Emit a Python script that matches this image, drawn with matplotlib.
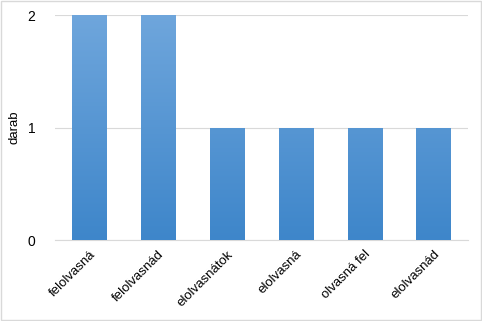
import matplotlib.pyplot as plt
import numpy as np
from matplotlib.colors import LinearSegmentedColormap

plt.rcParams['font.family'] = ['Liberation Sans', 'DejaVu Sans']

words = ["felolvasná", "felolvasnád", "elolvasnátok", "elolvasná", "olvasná fel", "elolvasnád"]
counts = [2, 2, 1, 1, 1, 1]

fig = plt.figure(figsize=(4.82, 3.21), dpi=100)
ax = fig.add_axes([0.114, 0.252, 0.857, 0.701])

x = np.arange(len(words))
bars = ax.bar(x, counts, width=0.5, color="#5b9bd5", zorder=2)

# vertical gradient on each bar, lighter at the top
cmap = LinearSegmentedColormap.from_list("bar", ["#3e86ca", "#6fa6dc"])
grad = np.linspace(0, 1, 256).reshape(-1, 1)
for b in bars:
    x0, w, h = b.get_x(), b.get_width(), b.get_height()
    im = ax.imshow(grad, cmap=cmap, origin="lower", aspect="auto",
                   extent=[x0, x0 + w, 0, 2], zorder=3)
    im.set_clip_path(b)

ax.set_xlim(-0.5, len(words) - 0.5)
ax.set_ylim(0, 2)
ax.set_yticks([0, 1, 2])
ax.set_xticks(x)
ax.set_xticklabels(words, rotation=45, ha="right", rotation_mode="anchor", fontsize=9.5)
ax.tick_params(axis="y", labelsize=10, length=0, pad=14)
ax.tick_params(axis="x", length=0, pad=6)
ax.set_ylabel("darab", fontsize=9.5, labelpad=5)

ax.grid(axis="y", color="#d9d9d9", linewidth=0.8, zorder=0)
for s in ["top", "right", "left"]:
    ax.spines[s].set_visible(False)
ax.spines["bottom"].set_color("#d9d9d9")

fig.patches.append(plt.Rectangle((0.002, 0.003), 0.996, 0.994, transform=fig.transFigure,
                                 fill=False, edgecolor="#d9d9d9", linewidth=1))

plt.savefig("out.png", dpi=100)
